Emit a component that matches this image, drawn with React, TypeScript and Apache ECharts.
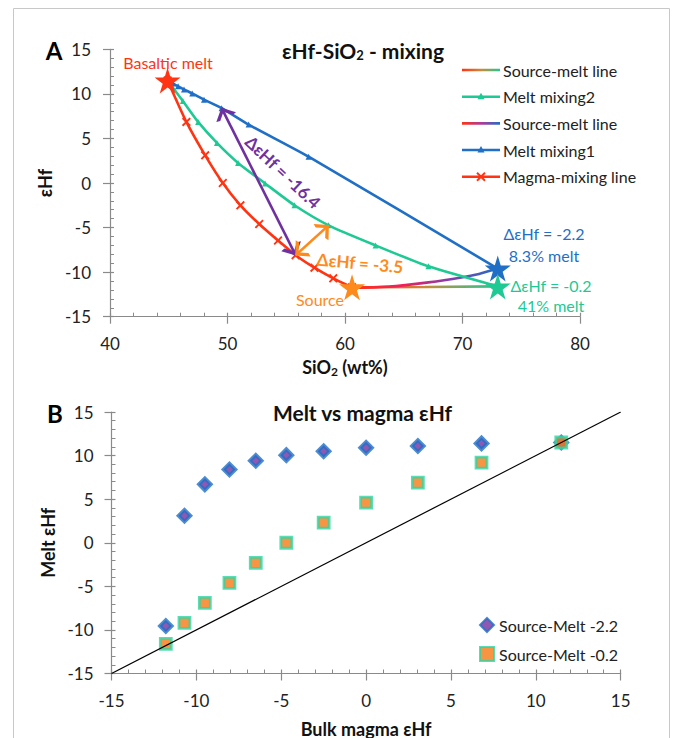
import React, { useEffect, useRef } from "react";
import * as echarts from "echarts";

// ---------- Panel A : εHf vs SiO2 ----------
const magmaSiO2 = [44.9, 46.5, 48.1, 49.6, 51.1, 52.7, 54.3, 55.8, 57.4, 59.0, 60.6];
const magmaHf = [11.5, 6.85, 3.1, 0.0, -2.5, -4.6, -6.45, -8.1, -9.5, -10.7, -11.7];
const mix1SiO2 = [44.9, 45.05, 45.35, 45.8, 46.3, 47.0, 48.0, 49.5, 51.8, 56.9, 73.0];
const mix1Hf = [11.5, 11.4, 11.15, 10.85, 10.5, 10.05, 9.35, 8.4, 6.55, 2.95, -9.6];
const mix2SiO2 = [44.9, 46.2, 47.5, 49.1, 50.9, 53.2, 55.7, 58.6, 62.6, 67.1, 73.0];
const mix2Hf = [11.5, 9.2, 6.85, 4.5, 2.25, -0.05, -2.5, -4.75, -7.0, -9.35, -11.6];
const srcMeltGreenSiO2 = [60.6, 66.8, 73.0];
const srcMeltGreenHf = [-11.7, -11.66, -11.6];
const srcMeltBlueSiO2 = [60.6, 63.7, 67.1, 69.9, 71.4, 73.0];
const srcMeltBlueHf = [-11.75, -11.63, -11.15, -10.6, -10.2, -9.6];
const arrowIndex = 7; // magma point joined to both melt-mixing curves

// ---------- Panel B : melt vs bulk magma εHf ----------
const bulkMagmaHf = [-11.8, -10.7, -9.5, -8.05, -6.5, -4.7, -2.5, 0.0, 3.05, 6.8, 11.5];
const meltHf22 = [-9.55, 3.1, 6.7, 8.4, 9.4, 10.05, 10.5, 10.9, 11.1, 11.4, 11.5];
const meltHf02 = [-11.6, -9.2, -6.9, -4.6, -2.3, 0.0, 2.3, 4.6, 6.9, 9.2, 11.5];
const oneToOne = [-15, 15];

// axis ranges [min, max, interval]
const xRangeA = [40, 80, 10];
const yRangeA = [-15, 15, 5];
const xRangeB = [-15, 15, 5];
const yRangeB = [-15, 15, 5];

const FONT = 'Lato, "Noto Sans", "DejaVu Sans", sans-serif';
const AX = "#8a8a8a";
const TXT = "#222";
const RED = "#ff3412";
const GREEN = "#1ec994";
const BLUE = "#1f6fc6";
const PURPLE = "#7030a0";
const ORANGE = "#ff8a1c";

const STAR =
  "path://M50,0 L61,35 L98,35 L68,57 L79,91 L50,70 L21,91 L32,57 L2,35 L39,35 Z";
const XMARK =
  "path://M1.5,0 L5,3.5 L8.5,0 L10,1.5 L6.5,5 L10,8.5 L8.5,10 L5,6.5 L1.5,10 L0,8.5 L3.5,5 L0,1.5 Z";
const CHEVRON =
  "path://M5,-10 M0,10 L5,0 L10,10 L8.2,10.9 L5,4.3 L1.8,10.9 Z";

function zip(xs: number[], ys: number[]) {
  return xs.map((x, i) => [x, ys[i]]);
}

function subStyle(fontSize: number, pad: number) {
  return {
    s: {
      fontSize,
      fontWeight: "bold",
      fontFamily: FONT,
      color: "#111",
      verticalAlign: "top",
      padding: [pad, 0, 0, 0],
    },
  };
}

function axes(
  dim: "x" | "y",
  gridIndex: number,
  range: number[],
  margin: number,
  name: string,
  nameGap: number,
  rich?: any
) {
  const position = dim === "x" ? "bottom" : "left";
  const base = {
    type: "value",
    gridIndex,
    min: range[0],
    max: range[1],
    interval: range[2],
    position,
    splitLine: { show: false },
  };
  return [
    {
      ...base,
      axisLine: { show: true, onZero: false, lineStyle: { color: AX, width: 1.2 } },
      axisTick: { show: true, inside: false, length: 7, lineStyle: { color: AX, width: 1.2 } },
      minorTick: { show: false },
      axisLabel: { margin, fontSize: 17, color: TXT, fontFamily: FONT },
      name,
      nameLocation: "middle",
      nameGap,
      nameTextStyle: {
        fontSize: 18,
        fontWeight: "bold",
        color: "#111",
        fontFamily: FONT,
        rich,
      },
    },
    {
      ...base,
      axisLine: { show: false, onZero: false },
      axisTick: { show: true, inside: true, length: 4, lineStyle: { color: AX, width: 1.2 } },
      minorTick: { show: true, splitNumber: 5, length: 4, lineStyle: { color: AX, width: 1 } },
      axisLabel: { show: false },
    },
  ];
}

function legendA() {
  const rows = [
    { label: "Source-melt line", kind: "grad", stops: [RED, "#c98a3a", GREEN] },
    { label: "Melt mixing2", kind: "tri", color: GREEN },
    { label: "Source-melt line", kind: "grad", stops: [RED, "#b03a9a", BLUE] },
    { label: "Melt mixing1", kind: "tri", color: BLUE },
    { label: "Magma-mixing line", kind: "x", color: RED },
  ];
  const x0 = 462;
  const x1 = 500;
  const cx = 481;
  const els: any[] = [];
  rows.forEach((r, i) => {
    const y = 70 + i * 26.7;
    if (r.kind === "grad") {
      const s = r.stops as string[];
      els.push({
        type: "rect",
        shape: { x: x0, y: y - 1.3, width: x1 - x0, height: 2.6 },
        style: {
          fill: new echarts.graphic.LinearGradient(0, 0, 1, 0, [
            { offset: 0, color: s[0] },
            { offset: 0.5, color: s[1] },
            { offset: 1, color: s[2] },
          ]),
        },
      });
    } else {
      els.push({
        type: "line",
        shape: { x1: x0, y1: y, x2: x1, y2: y },
        style: { stroke: r.color, lineWidth: 2.5 },
      });
      if (r.kind === "tri") {
        els.push({
          type: "polygon",
          shape: { points: [[cx, y - 4], [cx + 3.5, y + 2.5], [cx - 3.5, y + 2.5]] },
          style: { fill: r.color },
        });
      } else {
        els.push({
          type: "line",
          shape: { x1: cx - 4, y1: y - 4, x2: cx + 4, y2: y + 4 },
          style: { stroke: r.color, lineWidth: 2 },
        });
        els.push({
          type: "line",
          shape: { x1: cx - 4, y1: y + 4, x2: cx + 4, y2: y - 4 },
          style: { stroke: r.color, lineWidth: 2 },
        });
      }
    }
    els.push({
      type: "text",
      x: 503,
      y,
      style: {
        text: r.label,
        fill: TXT,
        fontSize: 16,
        fontFamily: FONT,
        align: "left",
        verticalAlign: "middle",
      },
    });
  });
  return els;
}

function label(
  text: string,
  x: number,
  y: number,
  color: string,
  size: number,
  bold = false,
  rotation = 0,
  rich?: any
) {
  return {
    type: "text",
    x,
    y,
    rotation,
    z: 100,
    style: {
      text,
      fill: color,
      fontSize: size,
      fontWeight: bold ? "bold" : "normal",
      fontFamily: FONT,
      align: "center",
      verticalAlign: "middle",
      rich,
    },
  };
}

function buildOption() {
  const [xA, xA2] = axes("x", 0, xRangeA, 18, "SiO{s|2} (wt%)", 40, subStyle(12, 9));
  const [yA, yA2] = axes("y", 0, yRangeA, 19, "εHf", 48);
  const [xB, xB2] = axes("x", 1, xRangeB, 18, "Bulk magma εHf", 46);
  const [yB, yB2] = axes("y", 1, yRangeB, 18, "Melt εHf", 52);

  const star = (pt: number[], color: string, size = 26) => ({
    type: "scatter",
    xAxisIndex: 0,
    yAxisIndex: 0,
    symbol: STAR,
    symbolSize: size,
    itemStyle: { color, opacity: 1 },
    z: 10,
    data: [pt],
  });

  const arrow = (to: number[], color: string) => ({
    type: "lines",
    coordinateSystem: "cartesian2d",
    xAxisIndex: 0,
    yAxisIndex: 0,
    symbol: [CHEVRON, CHEVRON],
    symbolSize: 22,
    lineStyle: { color, width: 2.6, opacity: 1, curveness: 0 },
    z: 8,
    data: [{ coords: [[magmaSiO2[arrowIndex], magmaHf[arrowIndex]], to] }],
  });

  const n = magmaSiO2.length - 1;

  return {
    animation: false,
    textStyle: { fontFamily: FONT },
    grid: [
      { left: 110, top: 49.3, width: 470, height: 267.4, outerBoundsMode: "none" },
      { left: 111.5, top: 412, width: 509.2, height: 261.5, outerBoundsMode: "none" },
    ],
    xAxis: [xA, xA2, { ...xB, gridIndex: 1 }, { ...xB2, gridIndex: 1 }],
    yAxis: [yA, yA2, { ...yB, gridIndex: 1 }, { ...yB2, gridIndex: 1 }],
    legend: {
      data: ["Source-Melt -2.2", "Source-Melt -0.2"],
      orient: "vertical",
      left: 479,
      top: 617,
      itemWidth: 14,
      itemHeight: 14,
      itemGap: 13,
      selectedMode: false,
      padding: 0,
      textStyle: { fontSize: 16, color: TXT, fontFamily: FONT },
    },
    graphic: [
      {
        type: "rect",
        shape: { x: 13.5, y: 8.5, width: 656, height: 740 },
        style: { fill: "none", stroke: "#c8c8c8", lineWidth: 1 },
        z: -10,
      },
      label("A", 54, 50, "#000", 24, true),
      label("B", 55, 413, "#000", 24, true),
      label("εHf-SiO{s|2} - mixing", 363, 50, "#111", 21, true, 0, subStyle(13, 10)),
      label("Melt vs magma εHf", 362.5, 412, "#111", 21, true),
      label("Basaltic melt", 168, 62, RED, 16),
      label("Source", 320, 299, ORANGE, 16),
      label("ΔεHf = -2.2", 544, 233, BLUE, 16),
      label("8.3% melt", 544, 255, BLUE, 16),
      label("ΔεHf = -0.2", 551, 285, GREEN, 16),
      label("41% melt", 551, 305, GREEN, 16),
      label("ΔεHf = -16.4", 283, 172, PURPLE, 17, true, -0.76),
      label("ΔεHf = -3.5", 360, 263, ORANGE, 17, true, -0.09),
      ...legendA(),
    ],
    series: [
      {
        name: "Source-melt line",
        type: "line",
        xAxisIndex: 0,
        yAxisIndex: 0,
        symbol: "none",
        lineStyle: {
          width: 2.6,
          color: new echarts.graphic.LinearGradient(0, 0, 1, 0, [
            { offset: 0, color: RED },
            { offset: 0.5, color: "#c98a3a" },
            { offset: 1, color: GREEN },
          ]),
        },
        z: 2,
        data: zip(srcMeltGreenSiO2, srcMeltGreenHf),
      },
      {
        name: "Source-melt line ",
        type: "line",
        xAxisIndex: 0,
        yAxisIndex: 0,
        symbol: "none",
        smooth: 0.3,
        lineStyle: {
          width: 2.6,
          color: new echarts.graphic.LinearGradient(0, 0, 1, 0, [
            { offset: 0, color: RED },
            { offset: 0.35, color: "#f0205a" },
            { offset: 0.65, color: "#8a3aa8" },
            { offset: 1, color: BLUE },
          ]),
        },
        z: 3,
        data: zip(srcMeltBlueSiO2, srcMeltBlueHf),
      },
      {
        name: "Melt mixing2",
        type: "line",
        xAxisIndex: 0,
        yAxisIndex: 0,
        smooth: 0.2,
        symbol: "triangle",
        symbolSize: 6,
        itemStyle: { color: GREEN },
        lineStyle: { color: GREEN, width: 2.6 },
        z: 4,
        data: zip(mix2SiO2, mix2Hf),
      },
      {
        name: "Melt mixing1",
        type: "line",
        xAxisIndex: 0,
        yAxisIndex: 0,
        smooth: 0.2,
        symbol: "triangle",
        symbolSize: 6,
        itemStyle: { color: BLUE },
        lineStyle: { color: BLUE, width: 2.6 },
        z: 4,
        data: zip(mix1SiO2, mix1Hf),
      },
      {
        name: "Magma-mixing line",
        type: "line",
        xAxisIndex: 0,
        yAxisIndex: 0,
        smooth: 0.2,
        symbol: XMARK,
        symbolSize: 9,
        itemStyle: { color: RED },
        lineStyle: { color: RED, width: 2.6 },
        z: 5,
        data: zip(magmaSiO2, magmaHf),
      },
      arrow([mix1SiO2[arrowIndex], mix1Hf[arrowIndex]], PURPLE),
      arrow([mix2SiO2[arrowIndex], mix2Hf[arrowIndex]], ORANGE),
      star([magmaSiO2[0], magmaHf[0]], RED),
      star([magmaSiO2[n], magmaHf[n]], ORANGE),
      star([mix1SiO2[n], mix1Hf[n]], BLUE),
      star([mix2SiO2[n], mix2Hf[n]], GREEN),
      // Panel B
      {
        name: "Source-Melt -2.2",
        type: "scatter",
        xAxisIndex: 2,
        yAxisIndex: 2,
        symbol: "diamond",
        symbolSize: 12,
        itemStyle: { color: PURPLE, borderColor: BLUE, borderWidth: 3.6 },
        z: 4,
        data: zip(bulkMagmaHf, meltHf22),
      },
      {
        name: "Source-Melt -0.2",
        type: "scatter",
        xAxisIndex: 2,
        yAxisIndex: 2,
        symbol: "rect",
        symbolSize: 11,
        itemStyle: { color: "#f57b16", borderColor: "#2fd4a3", borderWidth: 2.8 },
        z: 5,
        data: zip(bulkMagmaHf, meltHf02),
      },
      {
        name: "1:1",
        type: "line",
        xAxisIndex: 2,
        yAxisIndex: 2,
        symbol: "none",
        lineStyle: { color: "#000", width: 1.2 },
        z: 6,
        data: zip(oneToOne, oneToOne),
      },
    ],
  };
}

export default function App() {
  const ref = useRef<HTMLDivElement>(null);
  useEffect(() => {
    document.body.style.margin = "0";
    const chart = echarts.init(ref.current as HTMLDivElement, null, { renderer: "svg" });
    chart.setOption(buildOption() as any);
    return () => chart.dispose();
  }, []);
  return <div ref={ref} style={{ width: 677, height: 738, background: "#fff" }} />;
}
